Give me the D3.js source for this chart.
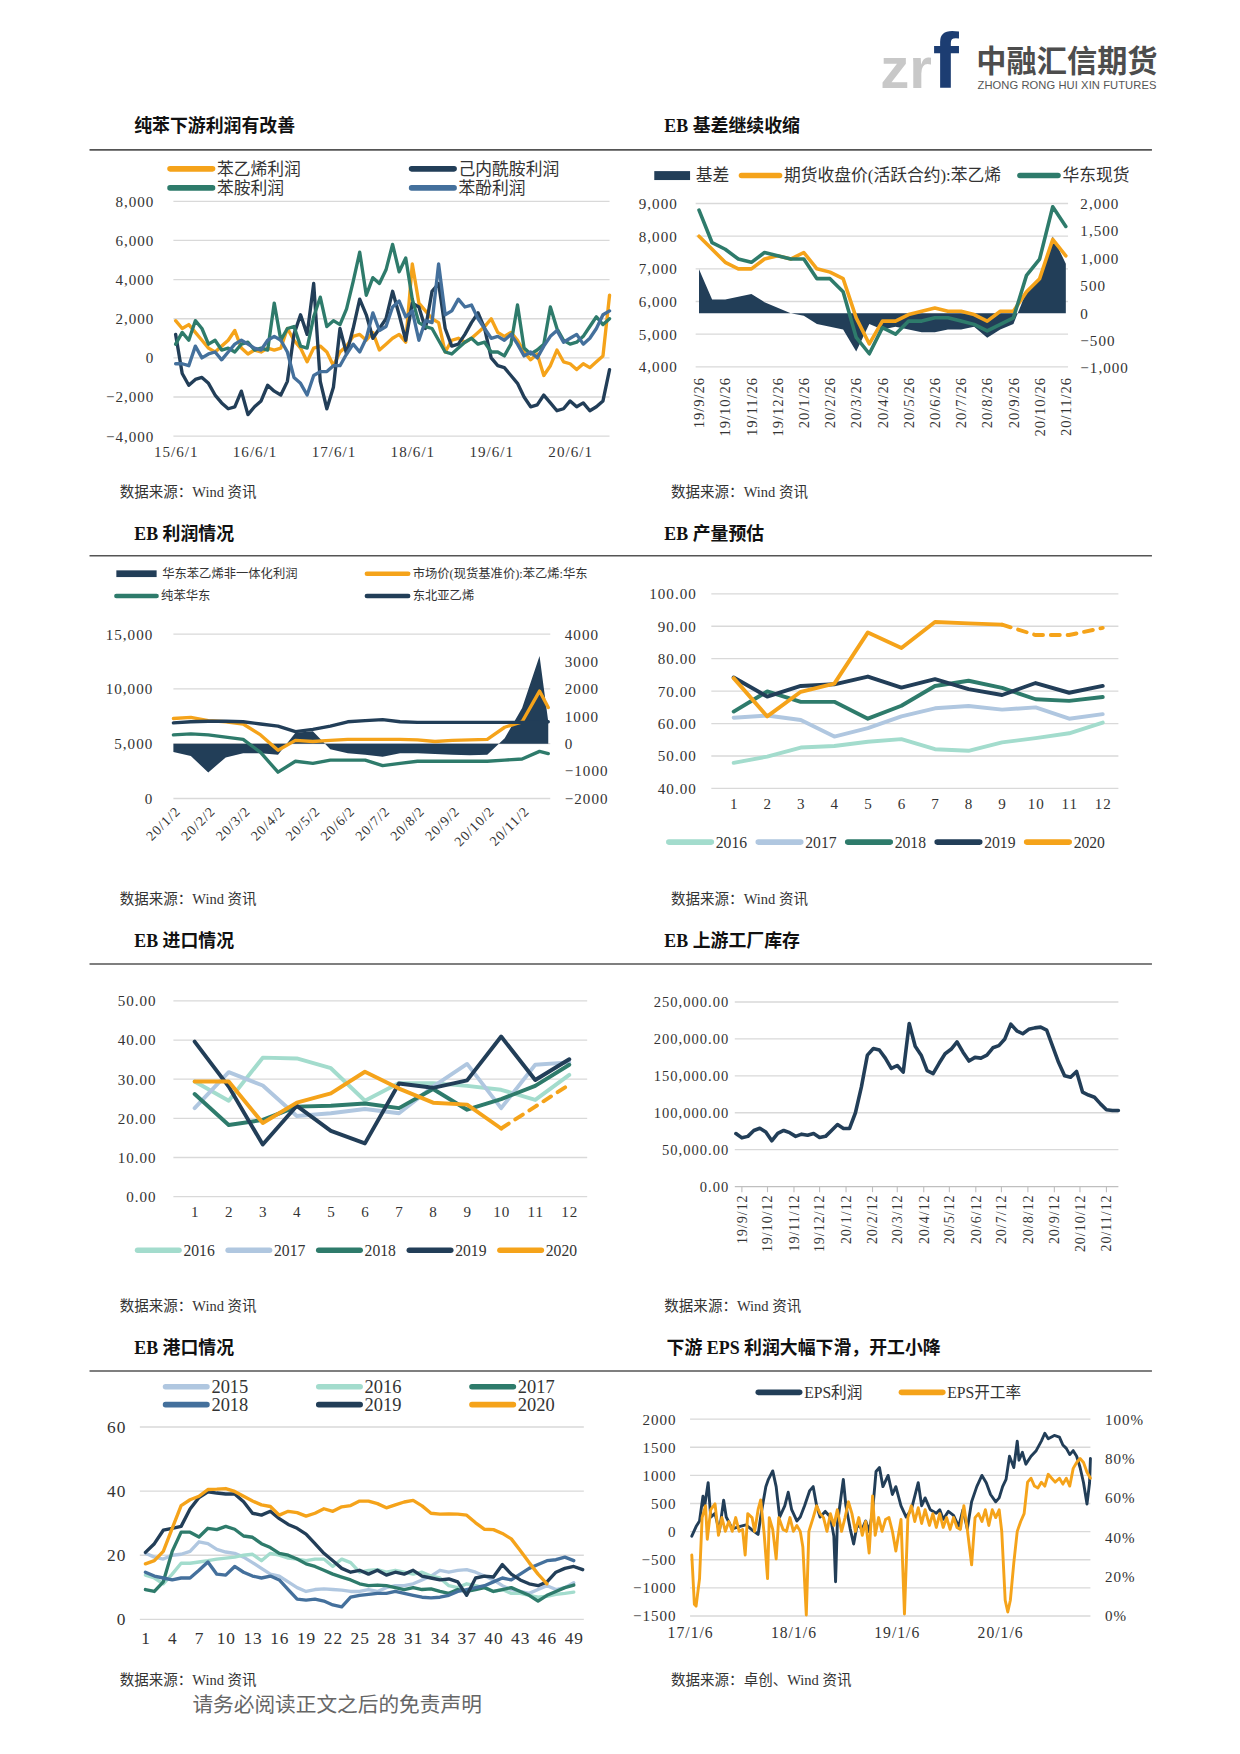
<!DOCTYPE html>
<html><head><meta charset="utf-8">
<script src="https://cdn.jsdelivr.net/npm/d3@7/dist/d3.min.js"></script>
<style>body{margin:0;background:#fff} svg{display:block}</style>
</head><body>
<svg id="page" width="1240" height="1754" viewBox="0 0 1108.7 1568.4"></svg>
<script>
// ---------------- DATA ----------------
// Chart 1: 纯苯下游利润有改善 (monthly from 2015-06)
const c1XLabels = ["15/6/1","16/6/1","17/6/1","18/6/1","19/6/1","20/6/1"];
const c1Names = ["苯乙烯利润","己内酰胺利润","苯胺利润","苯酚利润"];
const c1Styrene = [1900,1500,1700,1300,900,500,300,600,900,1400,500,200,400,300,500,400,500,1500,900,500,-200,500,600,300,-400,300,600,1100,1200,900,1300,400,700,1000,1200,800,4800,2800,2400,2000,1800,300,900,1000,800,1000,1300,1600,2000,1300,1100,1300,900,300,-100,200,-900,-400,400,-200,-300,-600,-300,-500,-200,100,3200];
const c1Capro = [1200,-800,-1400,-1100,-1000,-1300,-1900,-2300,-2600,-2500,-1700,-2900,-2500,-2200,-1400,-1700,-1900,-1200,1200,2200,1200,3800,-1200,-2600,-1500,1500,200,1500,3000,2200,1000,1500,2000,3400,2200,900,2800,2600,1500,3400,3800,1500,600,700,1200,1800,2300,1500,0,-400,-500,-900,-1300,-2000,-2500,-2400,-1900,-2300,-2700,-2600,-2200,-2500,-2300,-2700,-2500,-2200,-600];
const c1Aniline = [700,1300,900,1900,1500,700,900,400,500,300,700,800,400,500,400,2800,900,1500,1600,600,500,2100,3100,1600,1900,1700,2500,3900,5400,3200,4100,3800,4500,5800,4400,5100,3000,1800,1600,1500,900,300,200,500,800,1000,700,800,300,300,100,700,2700,500,200,400,700,2600,1500,900,700,800,1100,1600,2100,1700,2000];
const c1Phenol = [-300,-300,-400,600,0,200,300,-100,300,700,900,700,500,400,900,1100,900,300,-1000,-1300,-1900,-900,-700,-700,-400,-400,200,700,300,1000,2300,1400,1600,2600,2900,2100,2400,900,1900,1800,4800,2200,2400,3000,2600,2700,2000,1500,1000,1100,900,1200,700,100,300,0,600,1100,1400,800,1000,1200,700,1000,1500,2200,2400];
const c1YTicks = [-4000,-2000,0,2000,4000,6000,8000];

// Chart 2: EB 基差继续收缩 (half-monthly from 19/9/26)
const c2XLabels = ["19/9/26","19/10/26","19/11/26","19/12/26","20/1/26","20/2/26","20/3/26","20/4/26","20/5/26","20/6/26","20/7/26","20/8/26","20/9/26","20/10/26","20/11/26"];
const c2Basis = [800,250,250,300,350,200,100,0,-50,-200,-250,-300,-700,-200,-300,-250,-300,-350,-350,-300,-300,-250,-450,-300,-200,400,600,1400,900];
const c2Futures = [8000,7600,7200,7000,7000,7300,7400,7300,7500,7000,6900,6700,5500,4700,5400,5400,5600,5700,5800,5700,5700,5600,5400,5700,5700,6300,6700,7900,7400];
const c2Spot = [8800,7800,7600,7300,7200,7500,7400,7300,7300,6700,6700,6300,4900,4400,5200,5000,5400,5400,5500,5500,5400,5300,5100,5300,5500,6800,7300,8900,8300];
const c2LeftTicks = [4000,5000,6000,7000,8000,9000];
const c2RightTicks = [-1000,-500,0,500,1000,1500,2000];

// Chart 3: EB 利润情况 (months from 20/1/2)
const c3XLabels = ["20/1/2","20/2/2","20/3/2","20/4/2","20/5/2","20/6/2","20/7/2","20/8/2","20/9/2","20/10/2","20/11/2"];
const c3T = [0,0.5,1,1.5,2,2.5,3,3.5,4,4.5,5,5.5,6,6.5,7,7.5,8,8.5,9,9.5,10,10.5,10.75];
const c3Profit = [-300,-450,-1050,-500,-350,-350,-400,400,450,-200,-350,-400,-480,-350,-350,-380,-400,-420,-400,200,1300,3200,800];
const c3Styrene = [7300,7400,7100,7000,6800,5800,4400,5300,5200,5300,5400,5400,5400,5400,5350,5200,5300,5350,5400,6500,7000,9800,8300];
const c3Benzene = [5800,5900,5800,5600,5400,4200,2400,3400,3200,3500,3500,3500,3000,3200,3400,3400,3400,3400,3400,3500,3600,4300,4100];
const c3Ethylene = [6900,7000,7050,7050,7000,6800,6600,6100,6300,6600,7000,7100,7200,7000,6950,6950,6950,6950,6950,6950,6950,6950,7000];
const c3LeftTicks = [0,5000,10000,15000];
const c3RightTicks = [-2000,-1000,0,1000,2000,3000,4000];

// Chart 4: EB 产量预估
const months12 = [1,2,3,4,5,6,7,8,9,10,11,12];
const yearNames = ["2016","2017","2018","2019","2020"];
const c4_2016 = [47.9,49.8,52.6,53.1,54.4,55.2,52.1,51.6,54.2,55.5,57.0,60.3];
const c4_2017 = [61.8,62.5,61.1,56.0,58.6,62.2,64.7,65.4,64.3,65.0,61.5,62.9];
const c4_2018 = [63.7,69.9,66.7,66.7,61.5,65.5,71.6,73.2,71.0,67.5,67.0,68.2];
const c4_2019 = [74.2,68.3,71.6,72.1,74.5,71.1,73.7,70.6,68.8,72.5,69.5,71.6];
const c4_2020 = [74.0,62.2,69.8,72.3,88.1,83.3,91.3,90.9,90.5,87.3,87.3,89.5];
const c4YTicks = [40,50,60,70,80,90,100];

// Chart 5: EB 进口情况
const c5_2016 = [29.4,24.5,35.5,35.3,32.8,24.5,29.0,29.0,28.3,27.3,24.7,31.1];
const c5_2017 = [22.6,31.8,28.4,20.6,21.3,22.4,21.3,28.1,33.9,22.6,33.7,34.3];
const c5_2018 = [26.2,18.3,19.6,23.0,23.2,23.8,22.6,27.5,22.2,24.9,28.3,33.7];
const c5_2019 = [39.6,28.1,13.3,23.2,16.8,13.6,28.9,27.8,29.7,40.9,29.8,35.1];
const c5_2020 = [29.4,29.4,18.8,24.0,26.4,31.9,27.6,24.0,23.5,17.4,23.0,28.6];
const c5YTicks = [0,10,20,30,40,50];

// Chart 6: EB 上游工厂库存 (weekly from 2019-09-05)
const c6Start = "2019-09-05";
const c6XLabels = ["19/9/12","19/10/12","19/11/12","19/12/12","20/1/12","20/2/12","20/3/12","20/4/12","20/5/12","20/6/12","20/7/12","20/8/12","20/9/12","20/10/12","20/11/12"];
const c6Stock = [71800,66000,68000,76000,79000,74000,62000,72000,76000,73000,68000,71000,69500,71800,66400,68000,76000,84000,78600,78600,100000,135000,178000,187000,185000,174000,160000,164000,155000,221000,190000,178000,157000,153000,167000,180000,186000,196000,182000,170000,175000,174000,178000,188000,191000,200000,220000,211000,207000,213000,215000,216000,212000,190000,168000,150000,148000,156000,128000,124000,121000,112000,104000,103000,103000];
const c6YTicks = [0,50000,100000,150000,200000,250000];

// Chart 7: EB 港口情况 (weekly)
const c7Names = ["2015","2016","2017","2018","2019","2020"];
const c7XTicks = [1,4,7,10,13,16,19,22,25,28,31,34,37,40,43,46,49];
const c7_2015 = [20.6,19.4,18.8,20,20.3,21.2,24.2,23.6,21.8,21,20.6,19.4,17.7,15.9,14.1,13.5,11.7,9.9,8.7,9.3,9.5,9.3,9.1,8.7,8.7,9.3,8.7,9.9,10.5,10.5,11.1,12.3,13.5,15.3,14.7,15.3,15.5,14.7,13.5,12.3,10.5,9.3,8.7,8.1,9.3,10.5,9.3,9.9,11.4];
const c7_2016 = [13.8,12.9,11.1,14.1,17.5,17.5,17.9,18.3,18.8,19.1,19.4,20,20.3,18.3,20.6,20,19.1,18.8,18.3,18.8,18.8,16.5,18.8,17.7,14.7,15.3,15.5,14.7,15.3,14.7,14.1,14.7,13.5,12.9,10.5,9.9,11.1,10.5,9.9,8.7,9.3,8.1,8.1,7.5,6.9,7.2,7.8,8.1,8.5];
const c7_2017 = [9.3,8.7,11.7,21.2,27.2,27.2,25.7,28.4,28,29,28.1,26,25.6,23.6,22.4,20.6,20,18.8,17.3,16.5,15.3,14.1,13.2,12.3,11.1,10.5,10.7,10.5,9.9,9.3,9.9,9.3,9.5,8.7,8.1,9.3,8.7,9.3,9.9,8.7,9.3,9.9,8.7,7.5,5.7,7.5,8.7,9.9,10.7];
const c7_2018 = [14.7,13.5,12.9,12.3,12.9,12.9,15.3,17.9,14.1,13.8,16.5,14.7,13.5,12.9,13.5,12.3,9.3,6.3,6,6.3,5.7,4.5,3.9,6.9,7.5,7.8,8.1,8.1,8.7,8.1,7.5,6.9,6.7,6.9,7.5,8.7,9.3,9.9,10.5,11.7,12.9,12.3,14.1,15.9,17.1,18.3,18.6,19.4,18.3];
const c7_2019 = [20.9,23.6,27.8,28.4,29,34.4,38,39.8,39.4,39.1,39.1,36.7,33.1,32.5,33.7,31.4,29.6,28.4,26.6,23.6,20.6,18.3,15.9,14.7,15.3,14.1,15.3,13.8,14.7,14.1,15.3,13.5,12.9,12.3,12.6,11.7,7.5,12.9,13.5,13.2,17.1,14.1,12.3,11.1,10.5,11.7,14.7,15.9,16.5,15.5];
const c7_2020 = [17.3,18.3,21.2,28.4,35.5,37.3,38.4,40.5,40.6,40.8,39.9,38.4,36.9,35.7,35.2,32.5,33.7,33.3,32.2,33.1,34.5,33.7,35.1,35.5,36.9,36.9,36.1,34.8,35.7,36.6,37.1,35.4,33.1,32.8,32.9,32.8,32.5,30.1,28.1,28,26.8,25.1,21.5,17.7,14.1,11.1];
const c7YTicks = [0,20,40,60];

// Chart 8: 下游 EPS (months from 17/1/6)
const c8XLabels = ["17/1/6","18/1/6","19/1/6","20/1/6"];
const c8ProfitT = [0.2,0.7,1.1,1.5,1.7,2.1,2.4,2.9,3.4,3.9,4.2,4.9,5.7,6.5,7.3,7.9,8.3,8.8,9.1,9.6,10.0,10.4,11.0,11.4,11.8,12.4,12.8,13.3,13.9,14.3,14.7,15.1,15.7,16.3,16.7,16.9,17.1,17.6,17.8,18.1,18.6,19.0,19.4,20.0,20.4,20.8,21.2,21.6,22.0,22.4,23.0,23.5,23.9,24.5,25.1,25.7,26.1,26.5,26.9,27.3,27.9,28.6,29.0,29.4,30.0,30.6,31.2,31.7,32.2,32.7,33.3,33.9,34.4,34.9,35.5,35.9,36.3,36.7,37.1,37.6,38.0,38.2,38.6,39.0,39.6,40.2,40.8,41.2,41.6,42.3,42.9,43.3,43.7,44.1,44.5,44.9,45.3,45.7,46.1,46.4,46.5];
const c8Profit = [-80,90,190,630,460,870,260,325,0,560,260,50,90,120,20,-50,360,800,930,1080,800,260,460,700,390,190,260,460,730,800,460,260,360,260,-80,-890,120,700,930,460,50,-220,120,50,190,0,360,1070,1140,800,1000,660,800,460,260,390,630,870,460,600,390,325,390,220,360,290,90,390,50,530,800,1000,870,660,530,600,800,930,1340,1140,1610,1270,1410,1200,1340,1440,1610,1750,1650,1710,1680,1540,1480,1370,1440,1340,1140,870,490,870,1300];
const c8RateT = [0.2,0.5,0.7,1.1,1.4,1.8,2.0,2.4,2.9,3.3,3.7,4.1,4.5,4.9,5.3,5.7,6.1,6.4,6.7,7.2,7.5,7.9,8.2,8.6,9.0,9.2,9.6,10.0,10.3,10.8,11.2,11.6,12.0,12.4,12.8,13.1,13.5,13.8,14.3,14.7,15.1,15.5,15.9,16.3,16.7,17.1,17.6,18.0,18.4,18.8,19.2,19.6,20.0,20.4,20.8,21.2,21.5,21.9,22.3,22.7,23.1,23.5,23.9,24.5,24.9,25.3,25.7,26.1,26.5,26.9,27.3,27.8,28.2,28.6,29.0,29.4,29.8,30.2,30.6,31.0,31.4,31.8,32.2,32.7,33.1,33.5,33.9,34.3,34.7,35.1,35.5,35.9,36.2,36.6,36.9,37.2,37.6,38.0,38.4,38.8,39.2,39.6,40.0,40.4,40.8,41.2,41.6,42.0,42.4,42.9,43.3,43.7,44.1,44.5,44.9,45.3,45.7,46.1,46.5];
const c8Rate = [31,6,5,19,50,56,39,54,57,41,50,43,48,43,50,43,44,31,52,50,43,54,59,42,19,50,44,29,50,44,43,50,43,46,43,35,0.5,43,50,56,52,50,43,52,46,54,43,50,58,52,43,50,41,48,32,61,41,50,43,49,50,43,33,49,1,50,56,48,55,47,54,46,52,45,52,45,50,44,50,45,44,56,44,26,50,52,48,54,46,54,50,54,43,8,2,8,27,43,48,52,68,70,66,65,68,66,72,70,68,70,67,70,66,75,78,80,78,73,70];
const c8LeftTicks = [-1500,-1000,-500,0,500,1000,1500,2000];
const c8RightTicks = [0,0.2,0.4,0.6,0.8,1];

// ---------------- STYLE ----------------
const C = {orange:'#F5A31A', navy:'#223E58', teal:'#2E7B6B', blue:'#44709C', lteal:'#A3DCCD', lblue:'#B0C7E0'};
const NUM = '"Liberation Serif","DejaVu Serif",serif';
const MIX = '"Liberation Serif","Noto Sans CJK SC",serif';
const CJK = '"Noto Sans CJK SC","Liberation Serif",sans-serif';
const GRID = '#d9d9d9';
const LS = 0.9;

const page = d3.select('#page');
page.append('rect').attr('width',1108.7).attr('height',1568.4).attr('fill','#fff');

// ---------------- HELPERS ----------------
function grid(g, y, vals, x0, x1) {
  g.append('g').selectAll('line').data(vals).join('line')
    .attr('x1',x0).attr('x2',x1).attr('y1',d=>y(d)).attr('y2',d=>y(d))
    .attr('stroke',GRID).attr('stroke-width',1.2);
}
function styleNum(sel, size) {
  sel.attr('font-family',NUM).attr('font-size',size||13.5).attr('fill','#333').attr('letter-spacing',LS);
}
function leftAxis(g, y, x, vals, fmt, size) {
  const a = g.append('g').attr('transform',`translate(${x},0)`)
    .call(d3.axisLeft(y).tickValues(vals).tickFormat(fmt).tickSize(0).tickPadding(0));
  a.select('.domain').remove();
  styleNum(a.selectAll('text'), size);
}
function rightAxis(g, y, x, vals, fmt, size) {
  const a = g.append('g').attr('transform',`translate(${x},0)`)
    .call(d3.axisRight(y).tickValues(vals).tickFormat(fmt).tickSize(0).tickPadding(0));
  a.select('.domain').remove();
  styleNum(a.selectAll('text'), size);
}
function bottomAxis(g, x, y, vals, labels, size) {
  const a = g.append('g').attr('transform',`translate(0,${y})`)
    .call(d3.axisBottom(x).tickValues(vals).tickFormat((d,i)=>labels[i]).tickSize(0).tickPadding(0));
  a.select('.domain').remove();
  styleNum(a.selectAll('text'), size);
}
function addLine(g, data, x, y, color, w, dash) {
  g.append('path').datum(data)
    .attr('d', d3.line().x(d=>x(d[0])).y(d=>y(d[1])))
    .attr('fill','none').attr('stroke',color).attr('stroke-width',w)
    .attr('stroke-linejoin','round').attr('stroke-linecap','round')
    .attr('stroke-dasharray',dash||null);
}
function legendLine(g, x, y, len, color, label, size, font, w) {
  g.append('line').attr('x1',x).attr('x2',x+len).attr('y1',y).attr('y2',y)
    .attr('stroke',color).attr('stroke-width',w||5).attr('stroke-linecap','round');
  g.append('text').attr('x',x+len+4).attr('y',y).attr('dy','0.35em').text(label)
    .attr('font-family',font||MIX).attr('font-size',size).attr('fill','#333');
}
function legendRect(g, x, y, len, h, color, label, size) {
  g.append('rect').attr('x',x).attr('y',y-h/2).attr('width',len).attr('height',h).attr('fill',color);
  g.append('text').attr('x',x+len+5).attr('y',y).attr('dy','0.35em').text(label)
    .attr('font-family',MIX).attr('font-size',size).attr('fill','#333');
}
const zip = (xs, ys) => xs.map((v,i)=>[v, ys[i]]);
const idx = ys => ys.map((v,i)=>[i, v]);

// ---------------- HEADER ----------------
const hdr = page.append('g');
hdr.append('text').attr('x',787).attr('y',79).text('zr')
  .attr('font-family','"Liberation Sans",Arial,sans-serif').attr('font-weight','bold')
  .attr('font-size',52).attr('fill','#c8c8c8');
hdr.append('text').attr('x',834).attr('y',79).text('f')
  .attr('font-family','"Liberation Sans",Arial,sans-serif').attr('font-weight','bold')
  .attr('font-size',70).attr('fill','#1c3d72');
hdr.append('text').attr('x',873).attr('y',64).text('中融汇信期货')
  .attr('font-family',CJK).attr('font-weight','bold').attr('font-size',27).attr('fill','#4d4d4d')
  .attr('textLength',162);
hdr.append('text').attr('x',874).attr('y',80).text('ZHONG RONG HUI XIN FUTURES')
  .attr('font-family','"Liberation Sans",Arial,sans-serif').attr('font-size',10).attr('fill','#555')
  .attr('textLength',160);

[134,497,862,1226].forEach(y=>{
  page.append('line').attr('x1',80).attr('x2',1030).attr('y1',y).attr('y2',y)
    .attr('stroke','#555').attr('stroke-width',1.4);
});
const titles = [[120,118,'纯苯下游利润有改善'],[594,118,'EB 基差继续收缩'],[120,483,'EB 利润情况'],[594,483,'EB 产量预估'],
  [120,847,'EB 进口情况'],[594,847,'EB 上游工厂库存'],[120,1211,'EB 港口情况'],[596,1211,'下游 EPS 利润大幅下滑，开工小降']];
titles.forEach(t=>page.append('text').attr('x',t[0]).attr('y',t[1]).text(t[2])
  .attr('font-family',MIX).attr('font-weight','bold').attr('font-size',16).attr('fill','#111'));
const sources = [[107,444,'数据来源：Wind 资讯'],[600,444,'数据来源：Wind 资讯'],[107,808,'数据来源：Wind 资讯'],[600,808,'数据来源：Wind 资讯'],
  [107,1172,'数据来源：Wind 资讯'],[594,1172,'数据来源：Wind 资讯'],[107,1507,'数据来源：Wind 资讯'],[600,1507,'数据来源：卓创、Wind 资讯']];
sources.forEach(t=>page.append('text').attr('x',t[0]).attr('y',t[1]).text(t[2])
  .attr('font-family',MIX).attr('font-size',13).attr('fill','#333'));
page.append('text').attr('x',172).attr('y',1531).text('请务必阅读正文之后的免责声明')
  .attr('font-family',MIX).attr('font-size',18.5).attr('fill','#666');

// ---------------- CHART 1 ----------------
{
  const g = page.append('g');
  const x = d3.scaleLinear().domain([0,66]).range([157,545]);
  const y = d3.scaleLinear().domain([-4000,8000]).range([390,180]);
  grid(g, y, c1YTicks, 155, 545);
  leftAxis(g, y, 138, c1YTicks, d3.format(','));
  bottomAxis(g, x, 399, [0,12,24,36,48,60], c1XLabels);
  addLine(g, idx(c1Styrene), x, y, C.orange, 3);
  addLine(g, idx(c1Capro), x, y, C.navy, 3);
  addLine(g, idx(c1Aniline), x, y, C.teal, 3);
  addLine(g, idx(c1Phenol), x, y, C.blue, 3);
  legendLine(g, 152, 151, 38, C.orange, c1Names[0], 15);
  legendLine(g, 368, 151, 38, C.navy, c1Names[1], 15);
  legendLine(g, 152, 168, 38, C.teal, c1Names[2], 15);
  legendLine(g, 368, 168, 38, C.blue, c1Names[3], 15);
}

// ---------------- CHART 2 ----------------
{
  const g = page.append('g');
  const x = d3.scaleLinear().domain([0,14]).range([625,953]);
  const yL = d3.scaleLinear().domain([4000,9000]).range([328,182]);
  const yR = d3.scaleLinear().domain([-1000,2000]).range([329,182]);
  const t = c2Basis.map((v,i)=>i*0.5);
  grid(g, yL, c2LeftTicks, 622, 955);
  leftAxis(g, yL, 606, c2LeftTicks, d3.format(','));
  rightAxis(g, yR, 966, c2RightTicks, d3.format(','));
  g.append('path').datum(zip(t, c2Basis))
    .attr('d', d3.area().x(d=>x(d[0])).y0(yR(0)).y1(d=>yR(d[1])))
    .attr('fill', C.navy);
  addLine(g, zip(t, c2Futures), x, yL, C.orange, 3.2);
  addLine(g, zip(t, c2Spot), x, yL, C.teal, 3.2);
  styleNum(g.append('g').selectAll('text').data(c2XLabels).join('text')
    .attr('transform',(d,i)=>`translate(${x(i)},337) rotate(-90)`)
    .attr('text-anchor','end').attr('dy','0.35em').text(d=>d), 13);
  legendRect(g, 585, 157, 32, 8, C.navy, '基差', 15);
  legendLine(g, 663, 157, 34, C.orange, '期货收盘价(活跃合约):苯乙烯', 15);
  legendLine(g, 912, 157, 34, C.teal, '华东现货', 15);
}

// ---------------- CHART 3 ----------------
{
  const g = page.append('g');
  const x = d3.scaleLinear().domain([0,11]).range([155,498]);
  const yL = d3.scaleLinear().domain([0,15000]).range([714,567]);
  const yR = d3.scaleLinear().domain([-2000,4000]).range([714,567]);
  grid(g, yL, c3LeftTicks, 155, 492);
  leftAxis(g, yL, 137, c3LeftTicks, d3.format(','));
  rightAxis(g, yR, 505, c3RightTicks, d3.format('d'));
  g.append('path').datum(zip(c3T, c3Profit))
    .attr('d', d3.area().x(d=>x(d[0])).y0(yR(0)).y1(d=>yR(d[1])))
    .attr('fill', C.navy);
  addLine(g, zip(c3T, c3Styrene), x, yL, C.orange, 3);
  addLine(g, zip(c3T, c3Benzene), x, yL, C.teal, 3);
  addLine(g, zip(c3T, c3Ethylene), x, yL, C.navy, 3);
  styleNum(g.append('g').selectAll('text').data(c3XLabels).join('text')
    .attr('transform',(d,i)=>`translate(${x(i)+4},723) rotate(-45)`)
    .attr('text-anchor','end').attr('dy','0.35em').text(d=>d), 12.5);
  legendRect(g, 104, 513, 36, 6, C.navy, '华东苯乙烯非一体化利润', 11);
  legendLine(g, 328, 513, 37, C.orange, '市场价(现货基准价):苯乙烯:华东', 11, MIX, 4);
  legendLine(g, 104, 533, 36, C.teal, '纯苯华东', 11, MIX, 4);
  legendLine(g, 328, 533, 37, C.navy, '东北亚乙烯', 11, MIX, 4);
}

// ---------------- CHART 4 ----------------
{
  const g = page.append('g');
  const x = d3.scaleLinear().domain([1,12]).range([656,986]);
  const y = d3.scaleLinear().domain([40,100]).range([705,531]);
  grid(g, y, c4YTicks, 636, 1000);
  leftAxis(g, y, 623, c4YTicks, d3.format('.2f'));
  bottomAxis(g, x, 714, months12, months12.map(String));
  const cols = [C.lteal, C.lblue, C.teal, C.navy, C.orange];
  [c4_2016,c4_2017,c4_2018,c4_2019].forEach((s,k)=>addLine(g, zip(months12, s), x, y, cols[k], 3.5));
  const z = zip(months12, c4_2020);
  addLine(g, z.slice(0,9), x, y, C.orange, 3.5);
  addLine(g, z.slice(8), x, y, C.orange, 3.5, '8,7');
  yearNames.forEach((n,k)=>legendLine(g, 598+80*k, 753, 38, cols[k], n, 14, NUM));
}

// ---------------- CHART 5 ----------------
{
  const g = page.append('g');
  const x = d3.scaleLinear().domain([1,12]).range([174,509]);
  const y = d3.scaleLinear().domain([0,50]).range([1070,895]);
  grid(g, y, c5YTicks, 155, 525);
  leftAxis(g, y, 140, c5YTicks, d3.format('.2f'));
  bottomAxis(g, x, 1079, months12, months12.map(String));
  const cols = [C.lteal, C.lblue, C.teal, C.navy, C.orange];
  [c5_2016,c5_2017,c5_2018,c5_2019].forEach((s,k)=>addLine(g, zip(months12, s), x, y, cols[k], 3.5));
  const z = zip(months12, c5_2020);
  addLine(g, z.slice(0,10), x, y, C.orange, 3.5);
  addLine(g, z.slice(9), x, y, C.orange, 3.5, '8,7');
  yearNames.forEach((n,k)=>legendLine(g, 123+81*k, 1118, 37, cols[k], n, 14, NUM));
}

// ---------------- CHART 6 ----------------
{
  const g = page.append('g');
  const parse = d3.timeParse('%Y-%m-%d');
  const start = parse(c6Start);
  const dates = c6Stock.map((v,i)=>d3.timeDay.offset(start, 7*i));
  const x = d3.scaleTime().domain([start, dates[dates.length-1]]).range([658,1000]);
  const y = d3.scaleLinear().domain([0,250000]).range([1061,896]);
  grid(g, y, c6YTicks.slice(1), 657, 1000);
  g.append('line').attr('x1',657).attr('x2',1000).attr('y1',y(0)).attr('y2',y(0)).attr('stroke','#bfbfbf').attr('stroke-width',1.2);
  const labDates = c6XLabels.map(s=>{const p=s.split('/'); return new Date(2000+ +p[0], +p[1]-1, +p[2]);});
  g.append('g').selectAll('line').data(labDates).join('line')
    .attr('x1',d=>x(d)).attr('x2',d=>x(d)).attr('y1',y(0)).attr('y2',y(0)+5)
    .attr('stroke','#bfbfbf').attr('stroke-width',1);
  leftAxis(g, y, 652, c6YTicks, d3.format(',.2f'), 13);
  styleNum(g.append('g').selectAll('text').data(c6XLabels).join('text')
    .attr('transform',(d,i)=>`translate(${x(labDates[i])},1068) rotate(-90)`)
    .attr('text-anchor','end').attr('dy','0.35em').text(d=>d), 12.5);
  addLine(g, zip(dates, c6Stock), x, y, C.navy, 3.2);
}

// ---------------- CHART 7 ----------------
{
  const g = page.append('g');
  const x = d3.scaleLinear().domain([1,49]).range([130,513]);
  const y = d3.scaleLinear().domain([0,60]).range([1448,1276]);
  grid(g, y, c7YTicks, 125, 522);
  leftAxis(g, y, 113, c7YTicks, d3.format('d'), 15.5);
  bottomAxis(g, x, 1459, c7XTicks, c7XTicks.map(String), 15.5);
  const series = [c7_2015,c7_2016,c7_2017,c7_2018,c7_2019,c7_2020];
  const cols = [C.lblue, C.lteal, C.teal, C.blue, C.navy, C.orange];
  series.forEach((s,k)=>addLine(g, s.map((v,i)=>[i+1,v]), x, y, cols[k], 3));
  const lx = [148,285,422];
  c7Names.forEach((n,k)=>legendLine(g, lx[k%3], k<3?1240:1256, 37, cols[k], n, 16.5, NUM));
}

// ---------------- CHART 8 ----------------
{
  const g = page.append('g');
  const x = d3.scaleLinear().domain([0,46.5]).range([617,975]);
  const yL = d3.scaleLinear().domain([-1500,2000]).range([1445,1269]);
  const yR = d3.scaleLinear().domain([0,1]).range([1445,1269]);
  grid(g, yL, c8LeftTicks, 617, 975);
  leftAxis(g, yL, 605, c8LeftTicks, d3.format('d'));
  rightAxis(g, yR, 988, c8RightTicks, d3.format('.0%'));
  bottomAxis(g, x, 1455, [0,12,24,36], c8XLabels, 14);
  addLine(g, zip(c8ProfitT, c8Profit), x, yL, C.navy, 2.6);
  addLine(g, zip(c8RateT, c8Rate.map(v=>v/100)), x, yR, C.orange, 2.6);
  legendLine(g, 678, 1245, 37, C.navy, 'EPS利润', 14);
  legendLine(g, 806, 1245, 37, C.orange, 'EPS开工率', 14);
}
</script>
</body></html>
